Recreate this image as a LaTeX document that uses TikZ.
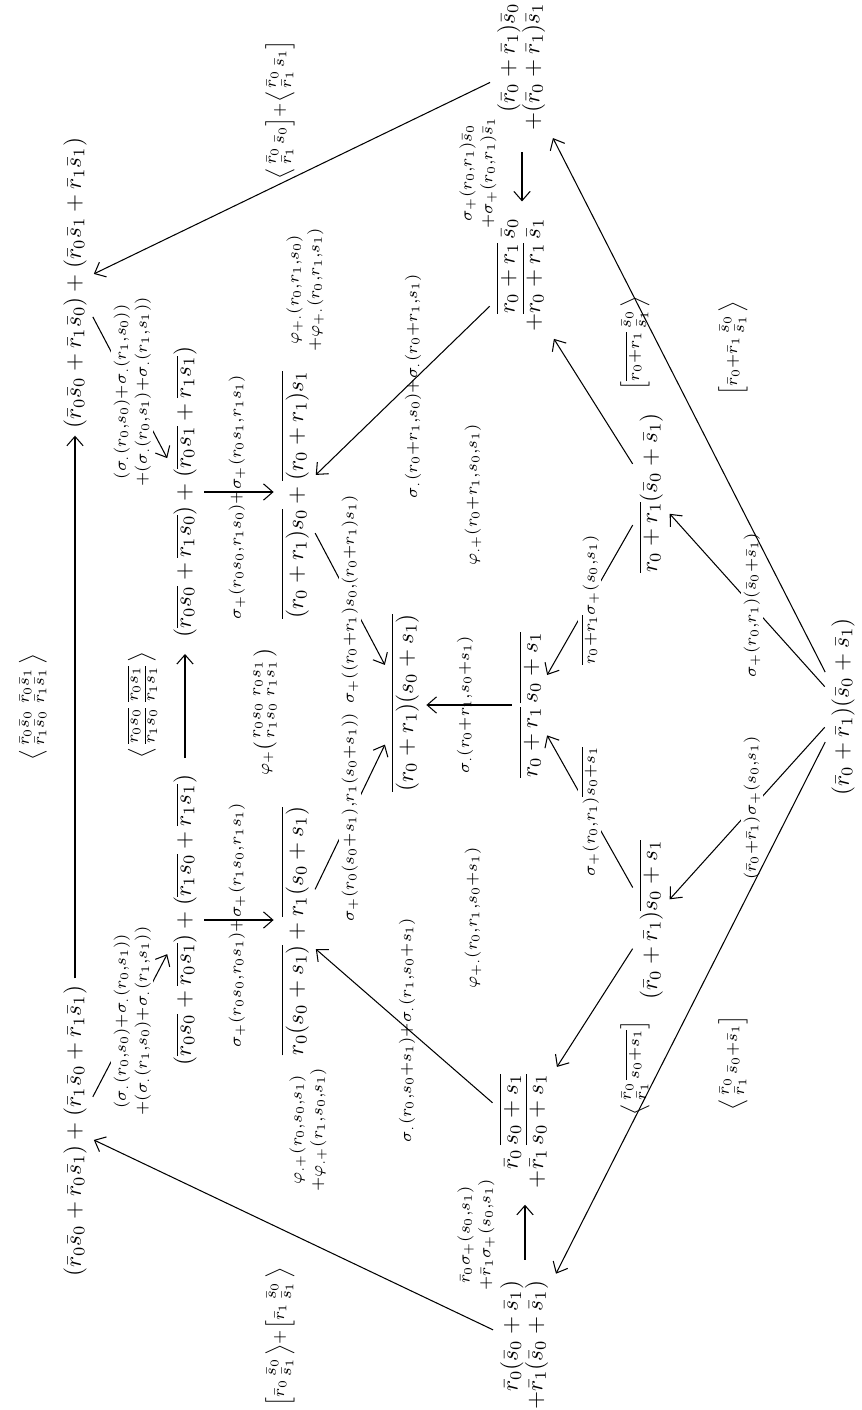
\documentclass[tikz,border=0pt]{standalone}
\usepackage{amsmath}
\usetikzlibrary{arrows.meta}
\newcommand{\Rb}[1]{\bar r_{#1}}
\newcommand{\Sb}[1]{\bar s_{#1}}
\newcommand{\mylab}[1]{$\scriptstyle #1$}
\begin{document}
\begin{tikzpicture}[x=0.43pt,y=-0.43pt,
  obj/.style={rotate=90, inner sep=2pt, font=\fontsize{10}{10.5}\selectfont},
  lab/.style={rotate=90, inner sep=1pt, font=\fontsize{10}{9}\selectfont, align=center},
  wlab/.style={lab, fill=white},
  ar/.style={-{Straight Barb[length=4pt,width=7pt,line width=0.45pt]}, line width=0.45pt, shorten >=1pt, shorten <=1pt}]
\useasboundingbox (0,0) rectangle (861,1410);

% objects
\node[obj] (A) at (75,1131) {$(\Rb0\Sb0+\Rb0\Sb1)+(\Rb1\Sb0+\Rb1\Sb1)$};
\node[obj] (B) at (75,283) {$(\Rb0\Sb0+\Rb1\Sb0)+(\Rb0\Sb1+\Rb1\Sb1)$};
\node[obj] (O) at (185,920) {$(\overline{r_0s_0}+\overline{r_0s_1})+(\overline{r_1s_0}+\overline{r_1s_1})$};
\node[obj] (N) at (185,492) {$(\overline{r_0s_0}+\overline{r_1s_0})+(\overline{r_0s_1}+\overline{r_1s_1})$};
\node[obj] (M) at (295,931) {$\overline{r_0(s_0+s_1)}+\overline{r_1(s_0+s_1)}$};
\node[obj] (L) at (295,495) {$\overline{(r_0+r_1)s_0}+\overline{(r_0+r_1)s_1}$};
\node[obj] (K) at (405,703) {$\overline{(r_0+r_1)(s_0+s_1)}$};
\node[obj] (J) at (530,705) {$\overline{r_0+r_1}\,\overline{s_0+s_1}$};
\node[obj] (C) at (525,1345) {$\begin{array}{@{}r@{}l@{}}&\Rb0(\Sb0+\Sb1)\\+&\Rb1(\Sb0+\Sb1)\end{array}$};
\node[obj] (D) at (525,1131) {$\begin{array}{@{}r@{}l@{}}&\Rb0\,\overline{s_0+s_1}\\+&\Rb1\,\overline{s_0+s_1}\end{array}$};
\node[obj] (H) at (522,67) {$\begin{array}{@{}r@{}l@{}}&(\Rb0+\Rb1)\Sb0\\+&(\Rb0+\Rb1)\Sb1\end{array}$};
\node[obj] (I) at (522,275) {$\begin{array}{@{}r@{}l@{}}&\overline{r_0+r_1}\,\Sb0\\+&\overline{r_0+r_1}\,\Sb1\end{array}$};
\node[obj] (F) at (651,920) {$(\Rb0+\Rb1)\overline{s_0+s_1}$};
\node[obj] (G) at (651,493) {$\overline{r_0+r_1}(\Sb0+\Sb1)$};
\node[obj] (E) at (843,707) {$(\Rb0+\Rb1)(\Sb0+\Sb1)$};

% straight (image-vertical / horizontal) arrows
\draw[ar] (A) -- (B);
\draw[ar, shorten <=5pt, shorten >=5pt] (O) -- (N);
\draw[ar, shorten <=7pt, shorten >=5pt] (C) -- (D);
\draw[ar, shorten <=7pt, shorten >=5pt] (H) -- (I);
\draw[ar] (J.north) -- (J.north -| K.south);
\draw[ar] (N.south) -- (N.south -| L.north);
\draw[ar] (O.south) -- (O.south -| M.north);

% diagonal arrows with labels on them
\draw[ar] (A) -- node[wlab, pos=0.53] {\mylab{(\sigma_{.}(r_0,s_0)+\sigma_{.}(r_0,s_1))}\\\mylab{+(\sigma_{.}(r_1,s_0)+\sigma_{.}(r_1,s_1))}} (O);
\draw[ar] (B) -- node[wlab, pos=0.53] {\mylab{(\sigma_{.}(r_0,s_0)+\sigma_{.}(r_1,s_0))}\\\mylab{+(\sigma_{.}(r_0,s_1)+\sigma_{.}(r_1,s_1))}} (N);
\draw[ar] (L) -- node[wlab, pos=0.5] {\mylab{\sigma_+((r_0+r_1)s_0,(r_0+r_1)s_1)}} (K);
\draw[ar] (M) -- node[wlab, pos=0.5] {\mylab{\sigma_+(r_0(s_0+s_1),r_1(s_0+s_1))}} (K);
\draw[ar] (G) -- node[wlab, pos=0.5] {\mylab{\overline{r_0+r_1}\sigma_+(s_0,s_1)}} (J);
\draw[ar] (F) -- node[wlab, pos=0.5] {\mylab{\sigma_+(r_0,r_1)\overline{s_0+s_1}}} (J);
\draw[ar] (E) -- node[wlab, pos=0.47] {\mylab{(\Rb0+\Rb1)\sigma_+(s_0,s_1)}} (F);
\draw[ar] (E) -- node[wlab, pos=0.47] {\mylab{\sigma_+(r_0,r_1)(\Sb0+\Sb1)}} (G);

% long arrows
\draw[ar] (C) -- (A);
\draw[ar] (H) -- (B);
\draw[ar] (E) -- (C.south east);
\draw[ar] (E) -- (H.south west);
\draw[ar] (G) -- (I.south west);
\draw[ar] (F) -- (D.south east);
\draw[ar] (D) -- (M);
\draw[ar] (I) -- (L);

% free labels
\node[lab] (l1) at (33,707) {$\left\langle\begin{smallmatrix}\Rb0\Sb0&\Rb0\Sb1\\\Rb1\Sb0&\Rb1\Sb1\end{smallmatrix}\right\rangle$};
\node[lab] (l2) at (142,705) {$\left\langle\begin{smallmatrix}\overline{r_0s_0}&\overline{r_0s_1}\\\overline{r_1s_0}&\overline{r_1s_1}\end{smallmatrix}\right\rangle$};
\node[lab] (l5) at (237,925) {\mylab{\sigma_+(r_0s_0,r_0s_1)+\sigma_+(r_1s_0,r_1s_1)}};
\node[lab] (l6) at (237,497) {\mylab{\sigma_+(r_0s_0,r_1s_0)+\sigma_+(r_0s_1,r_1s_1)}};
\node[lab] (l7) at (265,712) {$\scriptstyle\varphi_+\left(\begin{smallmatrix}r_0s_0&r_0s_1\\r_1s_0&r_1s_1\end{smallmatrix}\right)$};
\node[lab] (l8) at (308,1130) {\mylab{\varphi_{.+}(r_0,s_0,s_1)}\\\mylab{+\varphi_{.+}(r_1,s_0,s_1)}};
\node[lab] (l9) at (305,290) {\mylab{\varphi_{+.}(r_0,r_1,s_0)}\\\mylab{+\varphi_{+.}(r_0,r_1,s_1)}};
\node[lab] (l10) at (280,1337) {$\scriptstyle\left[\Rb0\begin{smallmatrix}\Sb0\\\Sb1\end{smallmatrix}\right\rangle+\left[\Rb1\begin{smallmatrix}\Sb0\\\Sb1\end{smallmatrix}\right\rangle$};
\node[lab] (l11) at (280,110) {$\scriptstyle\left\langle\begin{smallmatrix}\Rb0\\\Rb1\end{smallmatrix}\Sb0\right]+\left\langle\begin{smallmatrix}\Rb0\\\Rb1\end{smallmatrix}\Sb1\right]$};
\node[lab] (l12) at (407,1030) {\mylab{\sigma_{.}(r_0,s_0+s_1)+\sigma_{.}(r_1,s_0+s_1)}};
\node[lab] (l13) at (413,386) {\mylab{\sigma_{.}(r_0+r_1,s_0)+\sigma_{.}(r_0+r_1,s_1)}};
\node[lab] (l16) at (465,705) {\mylab{\sigma_{.}(r_0+r_1,s_0+s_1)}};
\node[lab] (l17) at (473,918) {\mylab{\varphi_{+.}(r_0,r_1,s_0+s_1)}};
\node[lab] (l18) at (473,495) {\mylab{\varphi_{.+}(r_0+r_1,s_0,s_1)}};
\node[lab] (l19) at (476,1235) {\mylab{\Rb0\sigma_+(s_0,s_1)}\\\mylab{+\Rb1\sigma_+(s_0,s_1)}};
\node[lab] (l20) at (478,173) {\mylab{\sigma_+(r_0,r_1)\Sb0}\\\mylab{+\sigma_+(r_0,r_1)\Sb1}};
\node[lab] (l25) at (635,343) {$\scriptstyle\left[\overline{r_0+r_1}\begin{smallmatrix}\Sb0\\\Sb1\end{smallmatrix}\right\rangle$};
\node[lab] (l26) at (733,348) {$\scriptstyle\left[\Rb0+\Rb1\begin{smallmatrix}\Sb0\\\Sb1\end{smallmatrix}\right\rangle$};
\node[lab] (l27) at (635,1068) {$\scriptstyle\left\langle\begin{smallmatrix}\Rb0\\\Rb1\end{smallmatrix}\overline{s_0+s_1}\right]$};
\node[lab] (l28) at (733,1063) {$\scriptstyle\left\langle\begin{smallmatrix}\Rb0\\\Rb1\end{smallmatrix}\Sb0+\Sb1\right]$};
\end{tikzpicture}
\end{document}
